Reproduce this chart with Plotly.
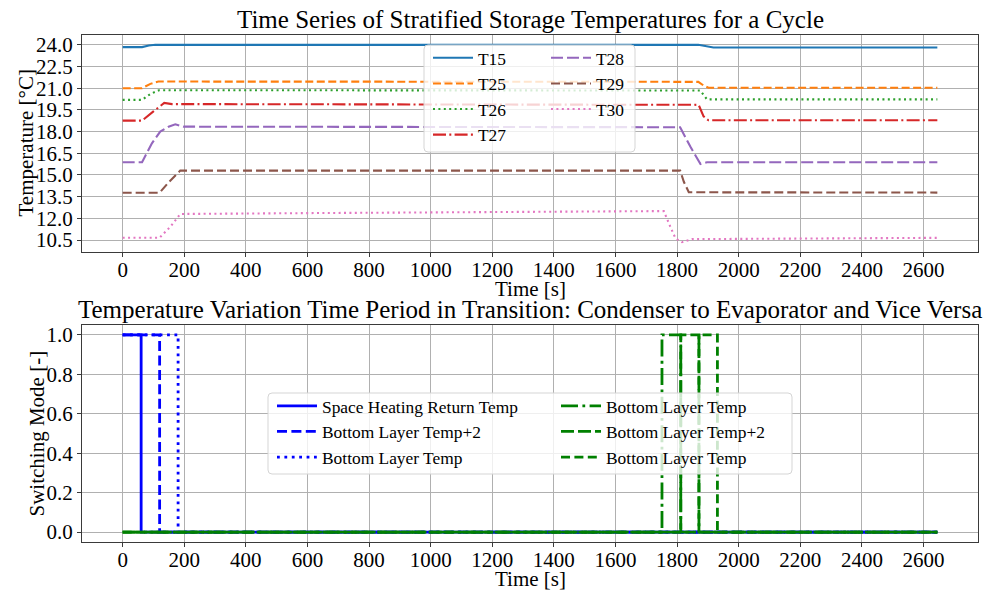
import plotly.graph_objects as go

# ---------------- data: stratified storage temperatures ----------------
t_T15 = [0, 63, 85, 106, 1869, 1895, 1918, 2645]
T15 = [23.84, 23.84, 23.95, 24.0, 24.0, 23.9, 23.82, 23.82]

t_T25 = [0, 63, 90, 116, 1869, 1885, 1902, 2645]
T25 = [21.0, 21.0, 21.3, 21.46, 21.44, 21.2, 21.03, 21.03]

t_T26 = [0, 63, 90, 118, 1875, 1886, 1897, 2645]
T26 = [20.19, 20.19, 20.6, 20.86, 20.84, 20.5, 20.23, 20.23]

t_T27 = [0, 63, 100, 135, 160, 1870, 1886, 1902, 2645]
T27 = [18.76, 18.76, 19.4, 19.98, 19.9, 19.85, 19.05, 18.78, 18.78]

t_T28 = [0, 63, 95, 122, 149, 171, 198, 1810, 1843, 1876, 1897, 2645]
T28 = [15.88, 15.88, 17.19, 18.0, 18.34, 18.5, 18.34, 18.3, 16.96, 15.76, 15.88, 15.88]

t_T29 = [0, 120, 152, 187, 1810, 1822, 1838, 2645]
T29 = [13.77, 13.77, 14.55, 15.3, 15.3, 14.53, 13.8, 13.78]

t_T30 = [0, 120, 155, 187, 600, 1226, 1757, 1778, 1795, 1816, 1830, 1849, 2200, 2645]
T30 = [10.66, 10.66, 11.42, 12.3, 12.36, 12.44, 12.5, 11.42, 10.61, 10.35, 10.43, 10.56, 10.6, 10.65]

temp_names = ["T15", "T25", "T26", "T27", "T28", "T29", "T30"]
temp_times = [t_T15, t_T25, t_T26, t_T27, t_T28, t_T29, t_T30]
temp_values = [T15, T25, T26, T27, T28, T29, T30]

temp_ticks = [10.5, 12.0, 13.5, 15.0, 16.5, 18.0, 19.5, 21.0, 22.5, 24.0]

# ---------------- data: switching modes ----------------
t_sh_return = [0, 60, 60, 2645]
sw_sh_return = [1, 1, 0, 0]
t_bl_plus2_c = [0, 120, 120, 2645]
sw_bl_plus2_c = [1, 1, 0, 0]
t_bl_c = [0, 180, 180, 2645]
sw_bl_c = [1, 1, 0, 0]

t_bl_e = [0, 1751, 1751, 1812, 1812, 2645]
sw_bl_e = [0, 0, 1, 1, 0, 0]
t_bl_plus2_e = [0, 1812, 1812, 1871, 1871, 2645]
sw_bl_plus2_e = [0, 0, 1, 1, 0, 0]
t_bl_e2 = [0, 1871, 1871, 1931, 1931, 2645]
sw_bl_e2 = [0, 0, 1, 1, 0, 0]

switch_ticks = [0.0, 0.2, 0.4, 0.6, 0.8, 1.0]
time_ticks = list(range(0, 2601, 200))

# ---------------- styles ----------------
FONT = "Liberation Serif, Times New Roman, serif"
temp_colors = ["#1f77b4", "#ff7f0e", "#2ca02c", "#d62728", "#9467bd", "#8c564b", "#e377c2"]
temp_dashes = ["solid", "8px,3.5px", "2px,3.4px", "13px,3.3px,2px,3.3px",
               "12px,4px", "9px,4px", "2px,3.4px"]
temp_legend = ["legend", "legend", "legend", "legend", "legend2", "legend2", "legend2"]

fig = go.Figure()

for name, tt, vv, c, d, lg in zip(temp_names, temp_times, temp_values,
                                  temp_colors, temp_dashes, temp_legend):
    fig.add_trace(go.Scatter(x=tt, y=vv, mode="lines", name=name,
                             line=dict(color=c, width=2.1, dash=d),
                             xaxis="x", yaxis="y", legend=lg))

switch_series = [
    ("Space Heating Return Temp", t_sh_return, sw_sh_return, "blue", "solid", "legend3"),
    ("Bottom Layer Temp+2", t_bl_plus2_c, sw_bl_plus2_c, "blue", "10px,4.4px", "legend3"),
    ("Bottom Layer Temp", t_bl_c, sw_bl_c, "blue", "2.8px,4.6px", "legend3"),
    ("Bottom Layer Temp", t_bl_e, sw_bl_e, "green", "17px,4.4px,2.8px,4.4px", "legend4"),
    ("Bottom Layer Temp+2", t_bl_plus2_e, sw_bl_plus2_e, "green", "13px,4px", "legend4"),
    ("Bottom Layer Temp", t_bl_e2, sw_bl_e2, "green", "9px,4.4px", "legend4"),
]
for name, tt, vv, c, d, lg in switch_series:
    fig.add_trace(go.Scatter(x=tt, y=vv, mode="lines", name=name,
                             line=dict(color=c, width=2.8, dash=d),
                             xaxis="x2", yaxis="y2", legend=lg))

W, H = 1002, 592
ML, MR, MT, MB = 82, 24, 35, 50
PW, PH = W - ML - MR, H - MT - MB


def px_x(p):
    return (p - ML) / PW


def px_y(p):
    return 1 - (p - MT) / PH


def rounded_rect(x0, y0, x1, y1, r=4):
    rx, ry = r / PW, r / PH
    X0, X1, Y0, Y1 = px_x(x0), px_x(x1), px_y(y1), px_y(y0)
    return (f"M {X0+rx},{Y0} L {X1-rx},{Y0} Q {X1},{Y0} {X1},{Y0+ry} "
            f"L {X1},{Y1-ry} Q {X1},{Y1} {X1-rx},{Y1} L {X0+rx},{Y1} "
            f"Q {X0},{Y1} {X0},{Y1-ry} L {X0},{Y0+ry} Q {X0},{Y0} {X0+rx},{Y0} Z")


axis_common = dict(
    showline=True, mirror=True, linecolor="#3a3a3a", linewidth=1.3,
    ticks="outside", ticklen=4, tickwidth=1, tickcolor="#3a3a3a",
    showgrid=True, gridcolor="#b0b0b0", gridwidth=1, zeroline=False,
    automargin=False,
    tickfont=dict(family=FONT, size=21, color="black"),
)

legend_common = dict(bgcolor="rgba(0,0,0,0)", borderwidth=0,
                     font=dict(family=FONT, size=17.4, color="black"),
                     xanchor="left", yanchor="top", orientation="v",
                     tracegroupgap=0, itemwidth=40)

TITLE_FONT = dict(family=FONT, size=25, color="black")
LABEL_FONT = dict(family=FONT, size=21, color="black")


def text_note(text, xref, yref, x, y, xanchor, yanchor, font, xshift=0, yshift=0, angle=0):
    return dict(text=text, xref=xref, yref=yref, x=x, y=y, xanchor=xanchor, yanchor=yanchor,
                xshift=xshift, yshift=yshift, textangle=angle, showarrow=False, font=font)


fig.update_layout(
    width=W, height=H,
    margin=dict(l=ML, r=MR, t=MT, b=MB, autoexpand=False),
    paper_bgcolor="white", plot_bgcolor="white",
    font=dict(family=FONT, color="black"),
    xaxis=dict(axis_common, domain=[0, 1], range=[-132, 2777], tickvals=time_ticks, anchor="y",
               ticklabelstandoff=-5),
    yaxis=dict(axis_common, domain=[0.572, 1], range=[9.67, 24.68], tickvals=temp_ticks,
               tickformat=".1f", anchor="x"),
    xaxis2=dict(axis_common, domain=[0, 1], range=[-132, 2777], tickvals=time_ticks, anchor="y2",
                ticklabelstandoff=-5),
    yaxis2=dict(axis_common, domain=[0, 0.428], range=[-0.05, 1.05], tickvals=switch_ticks,
                tickformat=".1f", anchor="x2"),
    legend=dict(legend_common, x=px_x(428), y=px_y(40)),
    legend2=dict(legend_common, x=px_x(546), y=px_y(40)),
    legend3=dict(legend_common, x=px_x(272), y=px_y(388)),
    legend4=dict(legend_common, x=px_x(556), y=px_y(388)),
    showlegend=True,
    shapes=[
        dict(type="path", xref="paper", yref="paper", layer="above",
             path=rounded_rect(424, 45, 635, 152),
             fillcolor="rgba(255,255,255,0.8)", line=dict(color="#d5d5d5", width=1)),
        dict(type="path", xref="paper", yref="paper", layer="above",
             path=rounded_rect(268, 393, 792, 474),
             fillcolor="rgba(255,255,255,0.8)", line=dict(color="#d5d5d5", width=1)),
    ],
    annotations=[
        text_note("Time Series of Stratified Storage Temperatures for a Cycle",
                  "x domain", "y domain", 0.5, 1, "center", "bottom", TITLE_FONT),
        text_note("Temperature Variation Time Period in Transition: Condenser to Evaporator and Vice Versa",
                  "x2 domain", "y2 domain", 0.5, 1, "center", "bottom", TITLE_FONT),
        text_note("Time [s]", "x domain", "y domain", 0.5, 0, "center", "middle", LABEL_FONT, yshift=-37),
        text_note("Time [s]", "x2 domain", "y2 domain", 0.5, 0, "center", "middle", LABEL_FONT, yshift=-37),
        text_note("Temperature [°C]", "x domain", "y domain", 0, 0.5, "center", "middle", LABEL_FONT,
                  xshift=-56, angle=-90),
        text_note("Switching Mode [-]", "x2 domain", "y2 domain", 0, 0.5, "center", "middle", LABEL_FONT,
                  xshift=-45, angle=-90),
    ],
)

fig.write_html("out.html")
